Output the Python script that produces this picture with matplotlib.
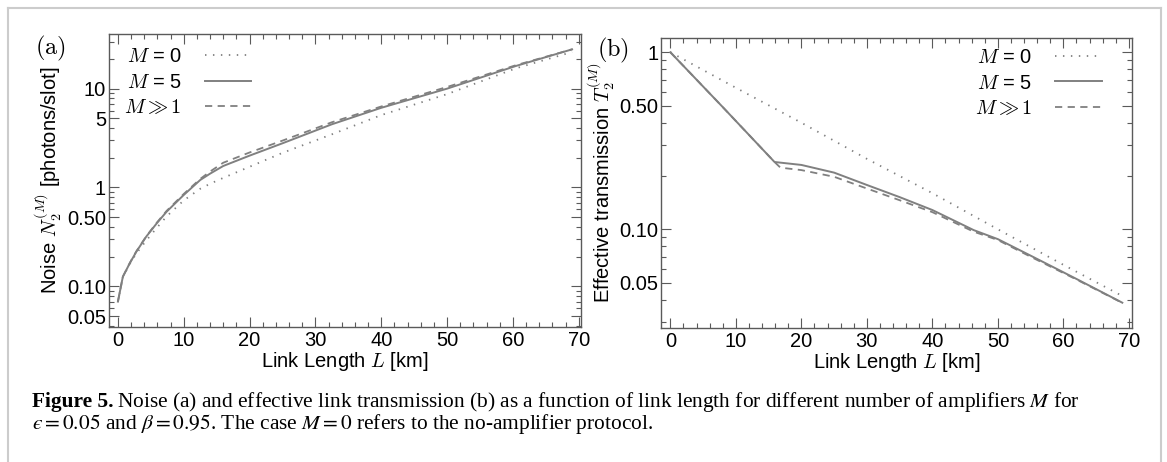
import matplotlib
matplotlib.use("Agg")
import matplotlib.pyplot as plt
from matplotlib.ticker import FixedLocator, FixedFormatter, LogLocator, MultipleLocator, NullFormatter
from matplotlib.lines import Line2D

# ---------------- data ----------------
L_a = [0, 0.75, 1.8, 2.8, 4.3, 5.9, 7.4, 10, 12.5, 14, 16, 20, 25, 32.5, 40, 50, 60.5, 69]
noise_M0 = [0.070, 0.124, 0.168, 0.215, 0.29, 0.39, 0.51, 0.74, 0.97, 1.09, 1.25, 1.62, 2.24, 3.45, 5.4, 8.8, 16.1, 23.5]
noise_M5 = [0.070, 0.125, 0.171, 0.224, 0.318, 0.434, 0.569, 0.84, 1.19, 1.38, 1.65, 2.1, 2.8, 4.36, 6.4, 10.0, 17.0, 25.0]
noise_Minf = [0.070, 0.125, 0.172, 0.226, 0.32, 0.44, 0.58, 0.86, 1.22, 1.45, 1.78, 2.26, 2.98, 4.57, 6.6, 10.4, 17.3, 25.0]

L_b0 = [0, 10, 20, 30, 40, 50, 60, 69]
trans_M0 = [1.0, 0.63, 0.40, 0.25, 0.16, 0.10, 0.063, 0.042]
L_b = [0, 8, 15.9, 16.8, 20, 25, 30, 35, 40, 46.3, 50, 55, 61.8, 69]
trans_M5 = [1.0, 0.49, 0.240, 0.238, 0.231, 0.209, 0.178, 0.152, 0.1285, 0.099, 0.088, 0.071, 0.0529, 0.0385]
trans_Minf = [1.0, 0.49, 0.240, 0.223, 0.216, 0.198, 0.170, 0.146, 0.125, 0.097, 0.087, 0.070, 0.0525, 0.0384]

legend_labels = [r"$M$ = 0", r"$M$ = 5", r"$M \gg 1$"]
yticks_a = [0.05, 0.1, 0.5, 1, 5, 10]
yticklabels_a = ["0.05", "0.10", "0.50", "1", "5", "10"]
yticks_b = [0.05, 0.1, 0.5, 1]
yticklabels_b = ["0.05", "0.10", "0.50", "1"]
xticks = [0, 10, 20, 30, 40, 50, 60, 70]

# ---------------- style ----------------
plt.rcParams['font.family'] = ['Liberation Sans', 'DejaVu Sans']
plt.rcParams['mathtext.fontset'] = 'cm'
LINE = '#808080'
FRAME = '#5a5a5a'
FS = 14.5

W, H = 1167, 462
fig = plt.figure(figsize=(W / 100, H / 100), dpi=100)

def px_axes(l, t, r, b):
    return [l / W, 1 - b / H, (r - l) / W, (b - t) / H]

ax1 = fig.add_axes(px_axes(108.7, 34.3, 581.3, 326.7))
ax2 = fig.add_axes(px_axes(661.2, 37.6, 1131.5, 328.3))

styles = [dict(ls=(0, (0.8, 3.6)), lw=1.3),
          dict(ls='-', lw=1.4),
          dict(ls=(0, (4.0, 3.0)), lw=1.3)]

ax1.plot(L_a, noise_M0, color=LINE, label=legend_labels[0], **styles[0])
ax1.plot(L_a, noise_M5, color=LINE, label=legend_labels[1], **styles[1])
ax1.plot(L_a, noise_Minf, color=LINE, label=legend_labels[2], **styles[2])

ax2.plot(L_b0, trans_M0, color=LINE, label=legend_labels[0], **styles[0])
ax2.plot(L_b, trans_M5, color=LINE, label=legend_labels[1], **styles[1])
ax2.plot(L_b, trans_Minf, color=LINE, label=legend_labels[2], **styles[2])

for ax, yt, ytl, ylim in [(ax1, yticks_a, yticklabels_a, (0.039, 35.5)),
                          (ax2, yticks_b, yticklabels_b, (0.0276, 1.21))]:
    ax.set_yscale('log')
    ax.set_xlim(-1.4, 70.4)
    ax.set_ylim(*ylim)
    ax.xaxis.set_major_locator(FixedLocator(xticks))
    ax.xaxis.set_minor_locator(MultipleLocator(2))
    ax.yaxis.set_major_locator(FixedLocator(yt))
    ax.yaxis.set_major_formatter(FixedFormatter(ytl))
    ax.yaxis.set_minor_locator(LogLocator(base=10, subs=[2, 3, 4, 6, 7, 8, 9], numticks=20))
    ax.yaxis.set_minor_formatter(NullFormatter())
    ax.tick_params(which='both', direction='in', top=True, right=True, color=FRAME,
                   labelsize=FS, width=0.8)
    ax.tick_params(which='major', length=7)
    ax.tick_params(which='minor', length=3.5)
    ax.tick_params(axis='x', pad=3)
    ax.tick_params(axis='y', pad=2)
    for s in ax.spines.values():
        s.set_color(FRAME)
        s.set_linewidth(1.0)
    ax.set_xlabel(r"Link Length $L$ [km]", fontsize=FS, labelpad=0)

ax1.set_ylabel(r"Noise $N_2^{(M)}$ [photons/slot]", fontsize=FS, labelpad=2)
ax2.set_ylabel(r"Effective transmission $T_2^{(M)}$", fontsize=FS, labelpad=2)

leg_kw = dict(frameon=False, markerfirst=False, fontsize=FS, handlelength=2.3,
              handletextpad=1.15, labelspacing=0.32, borderpad=0, borderaxespad=0)
ax1.legend(loc='upper left', bbox_to_anchor=(0.033, 0.955), **leg_kw)
ax2.legend(loc='upper right', bbox_to_anchor=(0.9366, 0.964), **leg_kw)

fig.text(50.8 / W, 1 - 48 / H, r"$\mathrm{(a)}$", fontsize=17.5, ha='center', va='center')
fig.text(612.7 / W, 1 - 50 / H, r"$\mathrm{(b)}$", fontsize=17.5, ha='center', va='center')

# ---------------- caption ----------------
CAP = 15.4
serif = ['Liberation Serif', 'DejaVu Serif']
x0 = 31.7 / W
yb1 = 1 - 407 / H
yb2 = 1 - 429 / H
t_bold = fig.text(x0, yb1, "Figure 5.", fontsize=CAP, family=serif, weight='bold', va='baseline')
fig.canvas.draw()
bb = t_bold.get_window_extent(renderer=fig.canvas.get_renderer())
fig.text(bb.x1 / W + 4 / W, yb1,
         r"Noise (a) and effective link transmission (b) as a function of link length for different number of amplifiers $M$ for",
         fontsize=CAP, family=serif, va='baseline', math_fontfamily='stix')
fig.text(x0, yb2,
         "$\u03f5 = 0.05$ and $\\beta = 0.95$. The case $M = 0$ refers to the no-amplifier protocol.",
         fontsize=CAP, family=serif, va='baseline', math_fontfamily='stix')

# page frame (left, top, right)
BORDER = '#cccccc'
fig.add_artist(Line2D([7.5 / W, 7.5 / W], [0, 1 - 7.5 / H], transform=fig.transFigure, color=BORDER, lw=1.5))
fig.add_artist(Line2D([7.5 / W, 1161 / W], [1 - 7.5 / H, 1 - 7.5 / H], transform=fig.transFigure, color=BORDER, lw=1.5))
fig.add_artist(Line2D([1161 / W, 1161 / W], [0, 1 - 7.5 / H], transform=fig.transFigure, color=BORDER, lw=1.5))

fig.savefig("out.png", dpi=100)
